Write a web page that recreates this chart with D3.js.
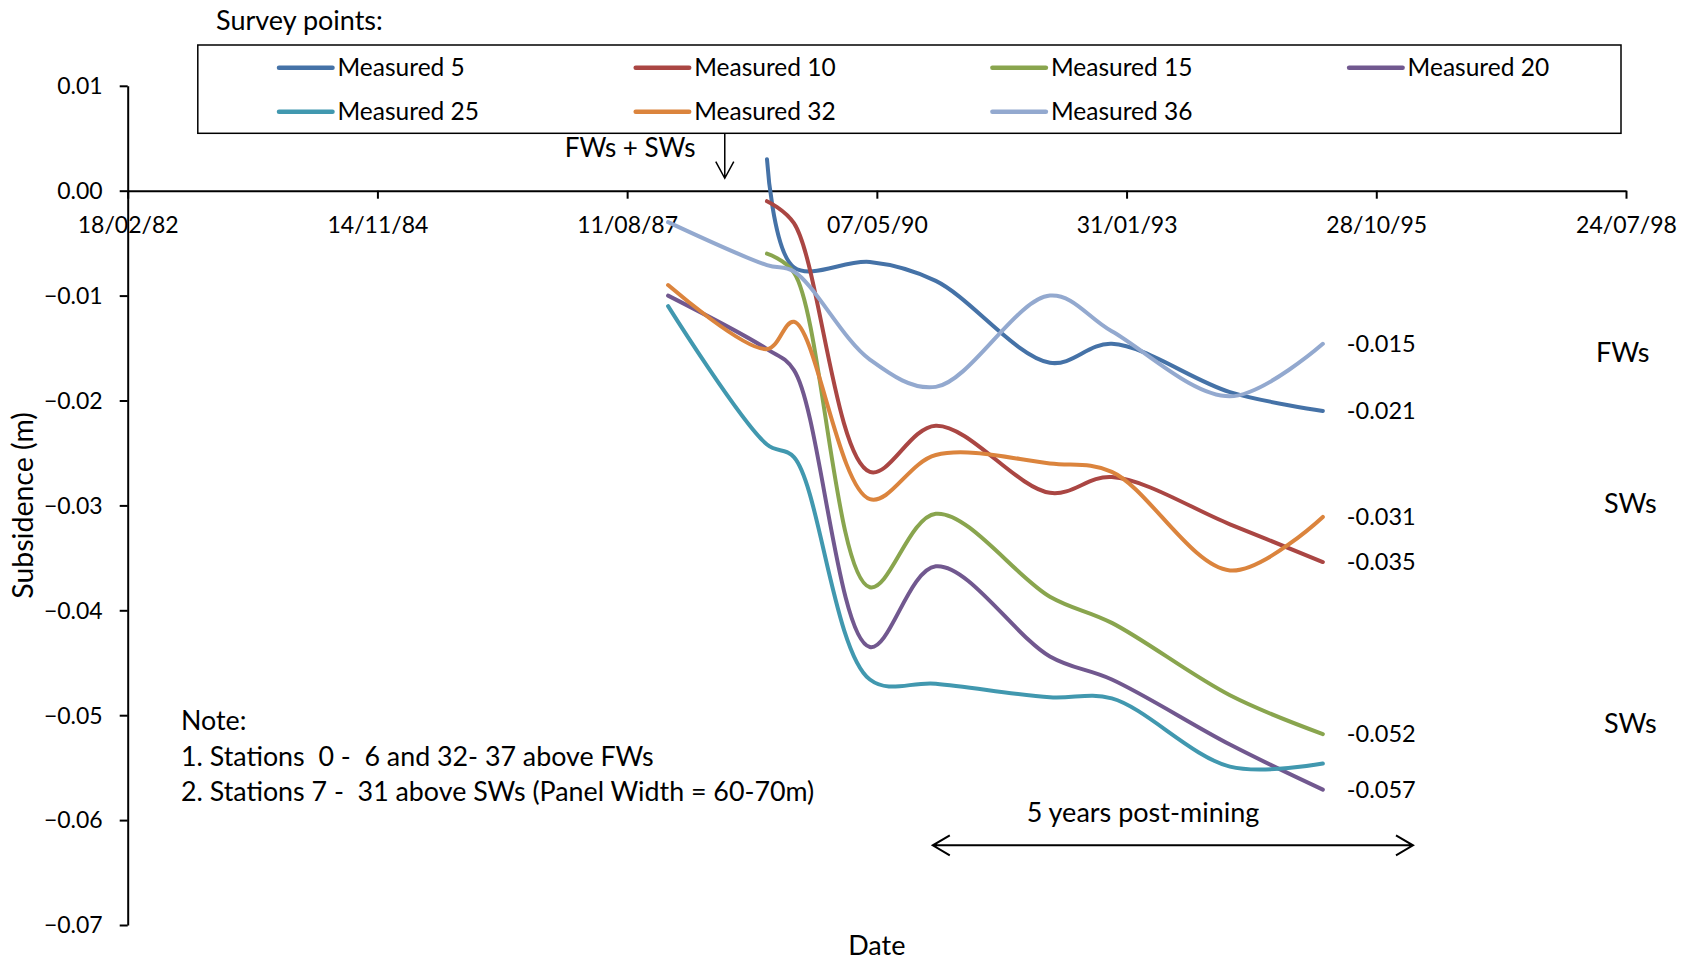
<!DOCTYPE html>
<html>
<head>
<meta charset="utf-8">
<script src="https://cdn.jsdelivr.net/npm/d3@7/dist/d3.min.js"></script>
<style>
  html, body { margin: 0; padding: 0; background: #fff; }
  svg { display: block; }
  text { font-family: Lato, "Open Sans", sans-serif; fill: #000; }
</style>
</head>
<body>
<svg id="chart" width="1686" height="969"></svg>
<script>
// ---------------- DATA ----------------
const surveyDates = ["1988-01-22", "1989-02-21", "1989-06-09", "1990-04-09", "1990-12-29",
                     "1992-03-30", "1992-12-03", "1994-03-21", "1995-03-28"];

const seriesNames = ["Measured 5", "Measured 10", "Measured 15", "Measured 20",
                     "Measured 25", "Measured 32", "Measured 36"];

const measured5  = [null,    0.0030, -0.0073, -0.0068, -0.0086, -0.0164, -0.0146, -0.0192, -0.0210];
const measured10 = [null,   -0.0010, -0.0031, -0.0268, -0.0224, -0.0288, -0.0273, -0.0318, -0.0354];
const measured15 = [null,   -0.0060, -0.0078, -0.0378, -0.0308, -0.0387, -0.0412, -0.0481, -0.0518];
const measured20 = [-0.0100, -0.0151, -0.0171, -0.0435, -0.0358, -0.0444, -0.0466, -0.0528, -0.0571];
const measured25 = [-0.0110, -0.0242, -0.0254, -0.0466, -0.0470, -0.0483, -0.0484, -0.0549, -0.0546];
const measured32 = [-0.0090, -0.0151, -0.0125, -0.0294, -0.0252, -0.0260, -0.0268, -0.0362, -0.0311];
const measured36 = [-0.0030, -0.0071, -0.0077, -0.0161, -0.0187, -0.0100, -0.0134, -0.0196, -0.0146];

const seriesColors = ["#4572A7", "#AA4643", "#89A54E", "#71588F", "#4198AF", "#DB843D", "#93A9CF"];

// end-of-line data labels (null = no label)
const endLabels = ["-0.021", "-0.035", "-0.052", "-0.057", null, "-0.031", "-0.015"];

const xTickDates = ["1982-02-18", "1984-11-14", "1987-08-11", "1990-05-07",
                    "1993-01-31", "1995-10-28", "1998-07-24"];
const yTickValues = [0.01, 0.00, -0.01, -0.02, -0.03, -0.04, -0.05, -0.06, -0.07];

const miningDate = "1988-09-05";                       // FWs + SWs arrow
const postMiningSpan = ["1990-12-17", "1996-03-23"];   // 5 years post-mining
const postMiningLevel = -0.0624;

// ---------------- CHART ----------------
const parse = d3.timeParse("%Y-%m-%d");
const svg = d3.select("#chart");

const x = d3.scaleTime()
  .domain([parse(xTickDates[0]), parse(xTickDates[xTickDates.length - 1])])
  .range([127.7, 1626]);
const y = d3.scaleLinear().domain([-0.07, 0.01]).range([925, 85.8]);

const allSeries = [measured5, measured10, measured15, measured20, measured25, measured32, measured36]
  .map((vals, i) => ({
    name: seriesNames[i],
    color: seriesColors[i],
    label: endLabels[i],
    points: vals.map((v, j) => ({ date: parse(surveyDates[j]), v })).filter(p => p.v !== null)
  }));

// Axes
const xAxis = d3.axisBottom(x)
  .tickValues(xTickDates.map(parse))
  .tickFormat(d3.timeFormat("%d/%m/%y"))
  .tickSize(8).tickSizeOuter(0);
const gx = svg.append("g").attr("transform", `translate(0,${y(0)})`).call(xAxis);
gx.select(".domain").attr("stroke", "#000").attr("stroke-width", 2);
gx.selectAll(".tick line").attr("stroke", "#000").attr("stroke-width", 2);
gx.selectAll(".tick text").attr("y", 42).attr("dy", 0)
  .style("font-size", "23px").style("font-family", "Lato, sans-serif").attr("fill", "#000");

const yAxis = d3.axisLeft(y)
  .tickValues(yTickValues)
  .tickFormat(d3.format(".2f"))
  .tickSize(8).tickSizeOuter(0);
const gy = svg.append("g").attr("transform", `translate(${x.range()[0]},0)`).call(yAxis);
gy.select(".domain").attr("stroke", "#000").attr("stroke-width", 2);
gy.selectAll(".tick line").attr("stroke", "#000").attr("stroke-width", 2);
gy.selectAll(".tick text").attr("x", -25).attr("dy", "0.34em")
  .style("font-size", "23px").style("font-family", "Lato, sans-serif").attr("fill", "#000");

// Axis titles
svg.append("text").attr("x", x(parse("1990-05-07"))).attr("y", 955)
  .attr("text-anchor", "middle").style("font-size", "27px").text("Date");
svg.append("text")
  .attr("transform", `translate(33,${(y.range()[0] + y.range()[1]) / 2}) rotate(-90)`)
  .attr("text-anchor", "middle").style("font-size", "28.5px").text("Subsidence (m)");

// Lines
const line = d3.line()
  .x(d => x(d.date)).y(d => y(d.v))
  .curve(d3.curveCatmullRom.alpha(0.5));

svg.append("g").selectAll("path").data(allSeries).join("path")
  .attr("d", d => line(d.points))
  .attr("fill", "none")
  .attr("stroke", d => d.color)
  .attr("stroke-width", 4)
  .attr("stroke-linecap", "round")
  .attr("stroke-linejoin", "round");

// End labels
svg.append("g").selectAll("text").data(allSeries.filter(s => s.label)).join("text")
  .attr("x", d => x(d.points[d.points.length - 1].date) + 24)
  .attr("y", d => y(d.points[d.points.length - 1].v))
  .attr("dy", "0.35em")
  .style("font-size", "23.5px")
  .text(d => d.label);

// Legend
svg.append("text").attr("x", 216).attr("y", 30).style("font-size", "27px").text("Survey points:");
svg.append("rect").attr("x", 197.8).attr("y", 45).attr("width", 1621 - 197.8).attr("height", 88.3)
  .attr("fill", "none").attr("stroke", "#000").attr("stroke-width", 1.5);
const legend = svg.append("g").selectAll("g").data(allSeries).join("g")
  .attr("transform", (d, i) => `translate(${279 + (i % 4) * 356.7},${i < 4 ? 67.7 : 111.7})`);
legend.append("line").attr("x1", 0).attr("x2", 53.5)
  .attr("stroke", d => d.color).attr("stroke-width", 4.5).attr("stroke-linecap", "round");
legend.append("text").attr("x", 58.5).attr("dy", "0.35em").style("font-size", "24.5px").text(d => d.name);

// FWs + SWs arrow
const mx = x(parse(miningDate));
svg.append("text").attr("x", 564.7).attr("y", 157).style("font-size", "26px").text("FWs + SWs");
svg.append("path")
  .attr("d", `M${mx},133.3 L${mx},178.3 M${mx - 9},161.7 L${mx},178.3 L${mx + 9},161.7`)
  .attr("fill", "none").attr("stroke", "#000").attr("stroke-width", 1.5);

// 5 years post-mining double arrow
const ax1 = x(parse(postMiningSpan[0])), ax2 = x(parse(postMiningSpan[1])), ay = y(postMiningLevel);
svg.append("path")
  .attr("d", `M${ax1},${ay} L${ax2},${ay} M${ax1 + 17},${ay - 10} L${ax1},${ay} L${ax1 + 17},${ay + 10}` +
             ` M${ax2 - 17},${ay - 10} L${ax2},${ay} L${ax2 - 17},${ay + 10}`)
  .attr("fill", "none").attr("stroke", "#000").attr("stroke-width", 2);
svg.append("text").attr("x", 1026.7).attr("y", 822)
  .style("font-size", "27px").text("5 years post-mining");

// Side labels
svg.append("text").attr("x", 1596).attr("y", 362).style("font-size", "27px").text("FWs");
svg.append("text").attr("x", 1604).attr("y", 513).style("font-size", "27px").text("SWs");
svg.append("text").attr("x", 1604).attr("y", 733).style("font-size", "27px").text("SWs");

// Note
const noteLines = ["Note:", "1. Stations  0 -  6 and 32- 37 above FWs",
                   "2. Stations 7 -  31 above SWs (Panel Width = 60-70m)"];
svg.append("g").selectAll("text").data(noteLines).join("text")
  .attr("x", 181).attr("y", (d, i) => 730 + i * 35.5)
  .style("font-size", "26.8px").style("white-space", "pre").attr("xml:space", "preserve")
  .text(d => d);
</script>
</body>
</html>
